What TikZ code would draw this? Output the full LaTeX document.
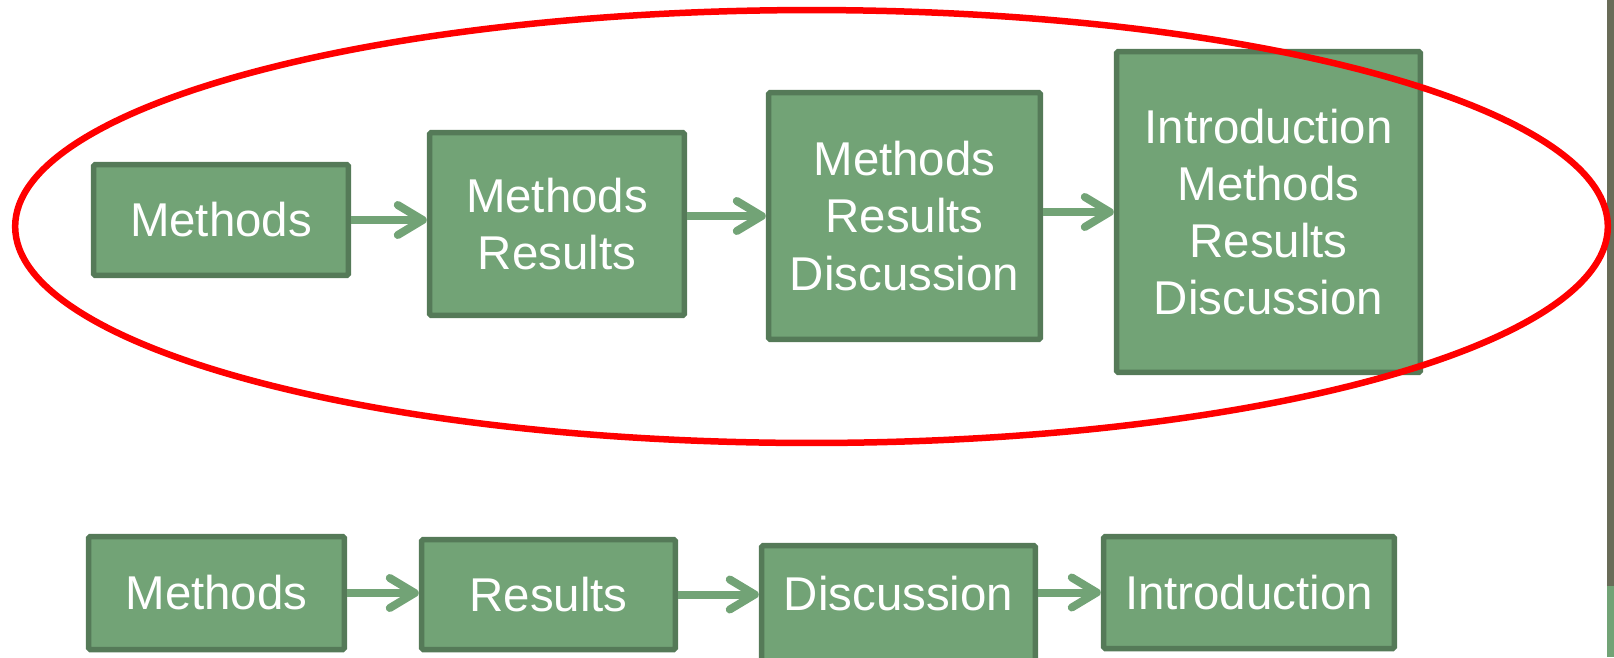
\documentclass[tikz,border=0pt]{standalone}
\usepackage{fontspec}
\setmainfont{Liberation Sans}
\usepackage{tikz}
\usetikzlibrary{arrows.meta,positioning,calc}
\definecolor{boxFill}{HTML}{72A376}
\definecolor{boxLine}{HTML}{557A58}
\definecolor{ringRed}{HTML}{FF0000}
\definecolor{edgeGray}{HTML}{696C58}

\begin{document}
\begin{tikzpicture}[
    x=0.02cm, y=-0.02cm,
    every node/.style={font=\fontsize{27pt}{32.5pt}\selectfont},
    stage/.style={rectangle,draw=boxLine,fill=boxFill,line width=0.11cm,
                  rounded corners=1pt,text=white,inner sep=0pt,align=center},
    flow/.style={-{Straight Barb[length=0.5cm,width=0.6cm,round]},
                 draw=boxFill,line width=0.16cm},
    ring/.style={draw=ringRed,line width=0.13cm}
  ]
  \useasboundingbox (0,0) rectangle (1614,657);
  %% slide edge on the right
  \fill[edgeGray] (1607,0) rectangle (1614,586);
  \fill[boxFill] (1607,586) rectangle (1614,657);
  %% Top row: the paper grows one section at a time
  \node[stage,minimum width=5.10cm,minimum height=2.22cm] (B1) at (221,220) {Methods};
  \node[stage,minimum width=5.10cm,minimum height=3.66cm] (B2) at (557,224) {Methods\\Results};
  \node[stage,minimum width=5.44cm,minimum height=4.94cm] (B3) at (904.5,216)
        {Methods\\Results\\Discussion};
  \node[stage,minimum width=6.08cm,minimum height=6.42cm] (B4) at (1268.5,212)
        {Introduction\\Methods\\Results\\Discussion};
  \draw[flow] (B1.east) -- (B1.east -| B2.west);
  \draw[flow] (B2.east |- B3.west) -- (B3.west);
  \draw[flow] (B3.east |- B4.west) -- (B4.west);
  %% Bottom row: one section per box
  \node[stage,minimum width=5.12cm,minimum height=2.26cm] (C1) at (216.5,593) {Methods};
  \node[stage,minimum width=5.08cm,minimum height=2.20cm] (C2) at (548.5,594.5) {Results};
  \node[stage,minimum width=5.48cm,text height=1.29cm,text depth=1.2cm,
        anchor=base] (C3) at (898.5,610) {Discussion};
  \node[stage,minimum width=5.82cm,minimum height=2.24cm] (C4) at (1249,592.5) {Introduction};
  \draw[flow] (C1.east) -- (C1.east -| C2.west);
  \draw[flow] (C2.east) -- (C2.east -| C3.west);
  \draw[flow] (C3.east |- C4.west) -- (C4.west);
  %% red ring round the top row
  \draw[ring] (811.5,226.5) ellipse [x radius=15.93cm,y radius=4.33cm];
\end{tikzpicture}
\end{document}
